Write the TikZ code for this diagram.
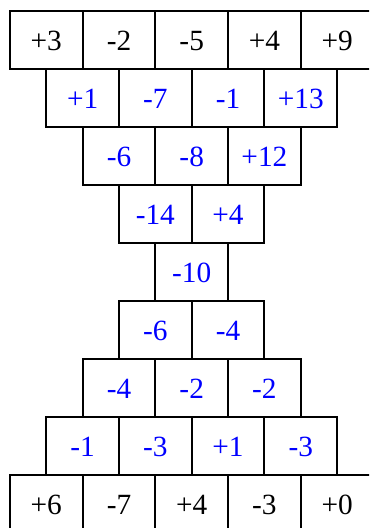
\documentclass[tikz,border=0pt]{standalone}
\usepackage{fontspec}
\setmainfont{Liberation Serif}
\begin{document}
\begin{tikzpicture}[x=0.75pt,y=-0.75pt,
  cell/.style={draw, line width=1.5pt, minimum width=54.5pt, minimum height=43.5pt,
    inner sep=0pt, text height=15.5pt, text depth=0pt,
    font=\fontsize{22}{25}\selectfont},
  given/.style={cell, text=black},
  derived/.style={cell, text=blue}]
\useasboundingbox (0,0) rectangle (369,528);
\clip (0,0) rectangle (369,528);
% row 1
\node[given] (r1a) at (46.3,39.7) {+3};
\node[given] (r1b) at (119.0,39.7) {-2};
\node[given] (r1c) at (191.7,39.7) {-5};
\node[given] (r1d) at (264.4,39.7) {+4};
\node[given] (r1e) at (337.1,39.7) {+9};
% row 2
\node[derived] (r2a) at (82.65,97.7) {+1};
\node[derived] (r2b) at (155.35,97.7) {-7};
\node[derived] (r2c) at (228.05,97.7) {-1};
\node[derived] (r2d) at (300.75,97.7) {+13};
% row 3
\node[derived] (r3a) at (119.0,155.7) {-6};
\node[derived] (r3b) at (191.7,155.7) {-8};
\node[derived] (r3c) at (264.4,155.7) {+12};
% row 4
\node[derived] (r4a) at (155.35,213.7) {-14};
\node[derived] (r4b) at (228.05,213.7) {+4};
% row 5
\node[derived] (r5a) at (191.7,271.7) {-10};
% row 6
\node[derived] (r6a) at (155.35,329.7) {-6};
\node[derived] (r6b) at (228.05,329.7) {-4};
% row 7
\node[derived] (r7a) at (119.0,387.7) {-4};
\node[derived] (r7b) at (191.7,387.7) {-2};
\node[derived] (r7c) at (264.4,387.7) {-2};
% row 8
\node[derived] (r8a) at (82.65,445.7) {-1};
\node[derived] (r8b) at (155.35,445.7) {-3};
\node[derived] (r8c) at (228.05,445.7) {+1};
\node[derived] (r8d) at (300.75,445.7) {-3};
% row 9
\node[given] (r9a) at (46.3,503.7) {+6};
\node[given] (r9b) at (119.0,503.7) {-7};
\node[given] (r9c) at (191.7,503.7) {+4};
\node[given] (r9d) at (264.4,503.7) {-3};
\node[given] (r9e) at (337.1,503.7) {+0};
\end{tikzpicture}
\end{document}
